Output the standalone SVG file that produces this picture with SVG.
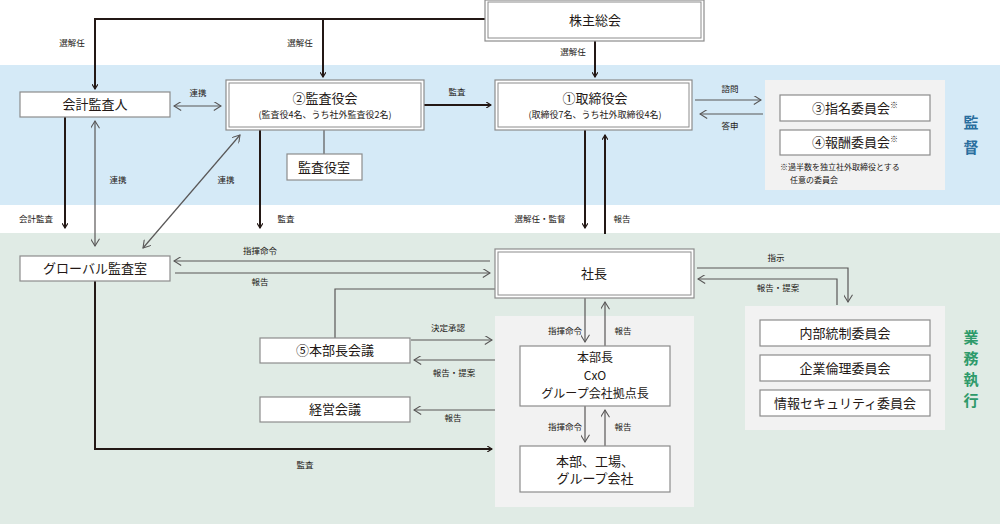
<svg xmlns="http://www.w3.org/2000/svg" width="1000" height="524" viewBox="0 0 1000 524">
<style>
text{font-family:"Noto Sans CJK JP","Noto Sans",sans-serif;fill:#231815;text-anchor:middle}
.b{fill:#fff;stroke:#8c8c8c;stroke-width:1.2}
.d{fill:none;stroke:#8c8c8c;stroke-width:1}
.t{font-size:13px}
.m{font-size:12px}
.s{font-size:9px}
.l{font-size:8.5px}
.k{fill:none;stroke:#231815;stroke-width:2}
.g{fill:none;stroke:#595757;stroke-width:1.2}
.v{font-size:15px;font-weight:bold}
</style>
<defs>
<marker id="ak" viewBox="0 0 10 10" refX="9" refY="5" markerWidth="6" markerHeight="6" orient="auto-start-reverse" markerUnits="userSpaceOnUse"><path d="M1,0 L9,5 L1,10" fill="none" stroke="#231815" stroke-width="2"/></marker>
<marker id="ag" viewBox="0 0 10 10" refX="9" refY="5" markerWidth="9" markerHeight="9" orient="auto-start-reverse" markerUnits="userSpaceOnUse"><path d="M1,0 L9,5 L1,10" fill="none" stroke="#595757" stroke-width="1.2"/></marker>
</defs>
<rect width="1000" height="524" fill="#fff"/>
<rect x="0" y="65" width="1000" height="140" fill="#d5eaf7"/>
<rect x="0" y="233" width="1000" height="291" fill="#e0ebe5"/>
<rect x="765" y="80" width="180" height="110" fill="#f2f2f2"/>
<rect x="495" y="316" width="199" height="191" fill="#f2f2f2"/>
<rect x="745" y="306" width="200" height="124" fill="#f2f2f2"/>
<text class="v" x="971" y="128" style="fill:#2a6e9e">監</text>
<text class="v" x="971" y="153" style="fill:#2a6e9e">督</text>
<text class="v" x="971" y="343" style="fill:#2e9a6a">業</text><text class="v" x="971" y="364" style="fill:#2e9a6a">務</text><text class="v" x="971" y="385" style="fill:#2e9a6a">執</text><text class="v" x="971" y="406" style="fill:#2e9a6a">行</text>

<g id="connectors">
<path class="k" d="M485,19 H95 V89" marker-end="url(#ak)"/>
<path class="k" d="M323,19 V77" marker-end="url(#ak)"/>
<path class="k" d="M595,41 V77" marker-end="url(#ak)"/>
<path class="g" d="M174,106 H221" marker-start="url(#ag)" marker-end="url(#ag)"/>
<path class="k" d="M424,105 H491" marker-end="url(#ak)"/>
<path class="g" d="M695,100 H761" marker-end="url(#ag)"/>
<path class="g" d="M763,114 H700" marker-end="url(#ag)"/>
<path class="g" d="M324,130 V154" stroke="#231815"/>
<path class="k" d="M65,117 V228" marker-end="url(#ak)"/>
<path class="g" d="M95,246 V121" stroke="#777" marker-start="url(#ag)" marker-end="url(#ag)"/>
<path class="g" d="M143,248 L240,135" stroke="#231815" stroke-width="0.9" marker-start="url(#ag)" marker-end="url(#ag)"/>
<path class="k" d="M260,130 V228" marker-end="url(#ak)"/>
<path class="k" d="M585,130 V228" marker-end="url(#ak)"/>
<path class="k" d="M605,234 V135" marker-end="url(#ak)"/>
<path class="g" d="M490,261 H174" stroke="#231815" marker-end="url(#ag)"/>
<path class="g" d="M175,273 H490" stroke="#777" stroke-width="1.5" marker-end="url(#ag)"/>
<path class="g" d="M495,289 H335 V338"/>
<path class="g" d="M411,340 H492" stroke="#231815" marker-end="url(#ag)"/>
<path class="g" d="M495,360 H414" stroke="#231815" marker-end="url(#ag)"/>
<path class="g" d="M495,410 H414" marker-end="url(#ag)"/>
<path class="k" d="M95,281 V449 H492" marker-end="url(#ak)"/>
<path class="g" d="M585,298 V342" marker-end="url(#ag)"/>
<path class="g" d="M605,346 V302" marker-end="url(#ag)"/>
<path class="g" d="M585,406 V442" marker-end="url(#ag)"/>
<path class="g" d="M605,446 V410" marker-end="url(#ag)"/>
<path class="g" d="M697,268 H848 V302" stroke="#231815" marker-end="url(#ag)"/>
<path class="g" d="M837,305 V279 H698" stroke="#777" stroke-width="1.5" marker-end="url(#ag)"/>
</g>
<g class="l">
<text x="72" y="46">選解任</text><text x="300" y="46">選解任</text><text x="573" y="55">選解任</text>
<text x="198" y="96">連携</text><text x="457" y="95">監査</text>
<text x="730" y="92">諮問</text><text x="730" y="129">答申</text>
<text x="118" y="183">連携</text><text x="226" y="183">連携</text>
<text x="36" y="222">会計監査</text><text x="286" y="222">監査</text>
<text x="540" y="222">選解任・監督</text><text x="622" y="222">報告</text>
<text x="260" y="254">指揮命令</text><text x="260" y="285">報告</text>
<text x="448" y="331">決定承認</text><text x="454" y="376">報告・提案</text>
<text x="453" y="421">報告</text><text x="305" y="468">監査</text>
<text x="565" y="334">指揮命令</text><text x="623" y="334">報告</text>
<text x="565" y="430">指揮命令</text><text x="623" y="430">報告</text>
<text x="776" y="261">指示</text><text x="778" y="291">報告・提案</text>
</g>

<g id="n-kabunushi"><rect class="b" x="485" y="0" width="219" height="41"/><rect class="d" x="488" y="2" width="213" height="36"/><text class="t" x="595" y="25">株主総会</text></g>
<g id="n-kaikei"><rect class="b" x="20" y="92" width="150" height="25"/><text class="t" x="95" y="109">会計監査人</text></g>
<g id="n-kansayakukai"><rect class="b" x="226" y="80" width="198" height="50"/><rect class="d" x="229" y="83" width="192" height="44"/><text class="t" x="325" y="103">②監査役会</text><text class="s" x="325" y="118">(監査役4名、うち社外監査役2名)</text></g>
<g id="n-kansayakushitsu"><rect class="b" x="287" y="154" width="75" height="26"/><text class="t" x="324" y="172">監査役室</text></g>
<g id="n-torishimariyakukai"><rect class="b" x="495" y="80" width="197" height="50"/><rect class="d" x="498" y="83" width="191" height="44"/><text class="t" x="595" y="103">①取締役会</text><text class="s" x="595" y="118">(取締役7名、うち社外取締役4名)</text></g>
<g id="n-shimei"><rect class="b" x="780" y="95" width="150" height="26"/><text class="t" x="855" y="113">③指名委員会<tspan font-size="8" dy="-5" style="fill:#231815">※</tspan></text></g>
<g id="n-hoshu"><rect class="b" x="780" y="130" width="150" height="25"/><text class="t" x="855" y="147">④報酬委員会<tspan font-size="8" dy="-5" style="fill:#231815">※</tspan></text></g>
<text x="780" y="170" font-size="8" style="text-anchor:start">※過半数を独立社外取締役とする</text>
<text x="790" y="183" font-size="8" style="text-anchor:start">任意の委員会</text>
<g id="n-global"><rect class="b" x="20" y="256" width="150" height="25"/><text class="t" x="95" y="273">グローバル監査室</text></g>
<g id="n-shacho"><rect class="b" x="495" y="249" width="199" height="49"/><rect class="d" x="498" y="252" width="193" height="43"/><text class="t" x="594" y="278">社長</text></g>
<g id="n-honbuchokaigi"><rect class="b" x="260" y="338" width="150" height="25"/><text class="t" x="335" y="355">⑤本部長会議</text></g>
<g id="n-keiei"><rect class="b" x="260" y="397" width="150" height="25"/><text class="t" x="335" y="414">経営会議</text></g>
<g id="n-honbucho"><rect class="b" x="520" y="346" width="150" height="60"/><text class="m" x="595" y="362">本部長</text><text class="m" x="595" y="380">CxO</text><text class="m" x="595" y="398">グループ会社拠点長</text></g>
<g id="n-honbu"><rect class="b" x="520" y="446" width="150" height="46"/><text class="t" x="595" y="466">本部、工場、</text><text class="t" x="595" y="483">グループ会社</text></g>
<g id="n-naibu"><rect class="b" x="760" y="320" width="170" height="26"/><text class="t" x="845" y="338">内部統制委員会</text></g>
<g id="n-kigyo"><rect class="b" x="760" y="355" width="170" height="26"/><text class="t" x="845" y="373">企業倫理委員会</text></g>
<g id="n-joho"><rect class="b" x="760" y="390" width="170" height="26"/><text class="t" x="845" y="408">情報セキュリティ委員会</text></g>
</svg>
